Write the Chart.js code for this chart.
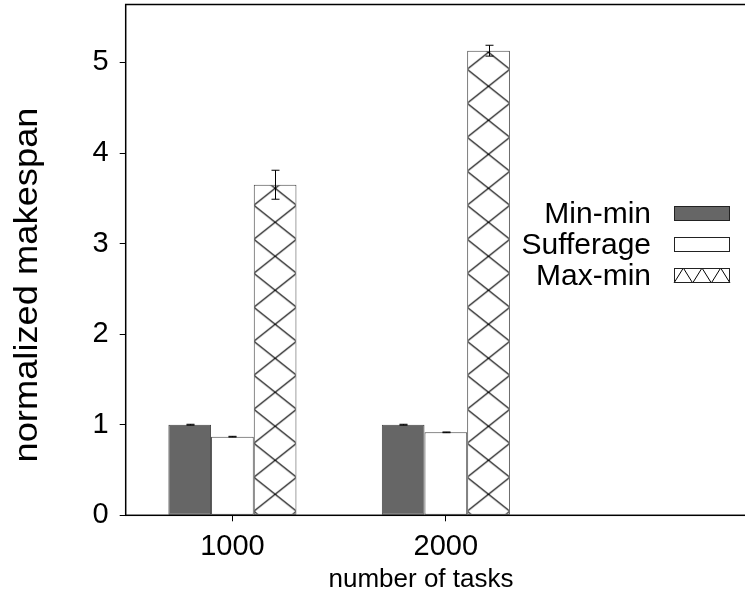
<!DOCTYPE html>
<html>
<head>
<meta charset="utf-8">
<script src="https://cdn.jsdelivr.net/npm/chart.js@4.4.1/dist/chart.umd.min.js"></script>
<style>
  html, body { margin: 0; padding: 0; background: #fff; overflow: hidden; }
  #wrap { width: 745px; height: 594px; overflow: hidden; }
</style>
</head>
<body>
<div id="wrap"><canvas id="chart" width="766" height="594"></canvas></div>
<script>
// data
const tasks = [1000, 2000];
const seriesNames = ['Min-min', 'Sufferage', 'Max-min'];
const minMin = [1.0, 1.0];
const sufferage = [0.868, 0.916];
const maxMin = [3.65, 5.13];
const minMinErr = [0.005, 0.005];
const sufferageErr = [0.004, 0.004];
const maxMinErr = [0.16, 0.06];
const yMax = 5.64;

const fontFamily = "'Liberation Sans', Arial, Helvetica, sans-serif";

// crosshatch used by the Max-min bars (three diamonds per tile)
function makeHatch(ctx) {
    const c = document.createElement('canvas');
    c.width = 128;
    c.height = 34;
    const g = c.getContext('2d');
    const w = 128 / 3, h = 34;
    g.fillStyle = '#fff';
    g.fillRect(0, 0, c.width, c.height);
    g.strokeStyle = '#000';
    g.lineWidth = 1.1;
    g.beginPath();
    for (let k = -1; k <= 3; k++) {
        g.moveTo(k * w, 0); g.lineTo((k + 1) * w, h);
        g.moveTo((k + 1) * w, 0); g.lineTo(k * w, h);
    }
    g.stroke();
    return ctx.createPattern(c, 'repeat');
}

const canvas = document.getElementById('chart');
const hatch = makeHatch(canvas.getContext('2d'));
const errors = [minMinErr, sufferageErr, maxMinErr];

// keeps the hatch lined up with the first Max-min bar
const hatchAlign = {
    id: 'hatchAlign',
    beforeDatasetsDraw(chart) {
        const bar = chart.getDatasetMeta(2).data[0];
        if (!bar) return;
        const left = bar.x - bar.width / 2;
        hatch.setTransform(new DOMMatrix([1, 0, 0, 1, left, 1.3]));
    }
};

const extras = {
    id: 'extras',
    afterDatasetsDraw(chart) {
        const ctx = chart.ctx;
        const a = chart.chartArea;
        const y = chart.scales.y;
        ctx.save();

        // frame
        ctx.strokeStyle = '#000';
        ctx.lineWidth = 1.5;
        ctx.strokeRect(a.left, a.top, a.right - a.left, a.bottom - a.top);

        // error bars
        ctx.lineWidth = 1;
        errors.forEach((errs, d) => {
            const meta = chart.getDatasetMeta(d);
            meta.data.forEach((bar, i) => {
                const v = chart.data.datasets[d].data[i].y;
                const top = y.getPixelForValue(v + errs[i]);
                const bot = y.getPixelForValue(v - errs[i]);
                const x = Math.round(bar.x) + 0.5;
                ctx.beginPath();
                ctx.moveTo(x, top); ctx.lineTo(x, bot);
                ctx.moveTo(x - 4, top); ctx.lineTo(x + 4, top);
                ctx.moveTo(x - 4, bot); ctx.lineTo(x + 4, bot);
                ctx.stroke();
            });
        });

        // legend
        ctx.font = '30px ' + fontFamily;
        ctx.fillStyle = '#000';
        ctx.textAlign = 'right';
        ctx.textBaseline = 'middle';
        const boxL = 674, boxW = 56, boxH = 15;
        seriesNames.forEach((name, i) => {
            const cy = 213.5 + i * 31;
            ctx.fillText(name, 651, cy + 1);
            const bx = boxL, by = cy - boxH / 2;
            const ds = chart.data.datasets[i];
            if (i === 2) {
                ctx.fillStyle = '#fff';
                ctx.fillRect(bx, by, boxW, boxH);
                ctx.beginPath();
                const n = 3, step = boxW / n;
                ctx.moveTo(bx, by + boxH);
                for (let k = 0; k < n; k++) {
                    ctx.lineTo(bx + step * (k + 0.5), by);
                    ctx.lineTo(bx + step * (k + 1), by + boxH);
                }
                ctx.strokeStyle = '#000';
                ctx.lineWidth = 1;
                ctx.stroke();
            } else {
                ctx.fillStyle = ds.backgroundColor;
                ctx.fillRect(bx, by, boxW, boxH);
            }
            ctx.strokeStyle = '#222';
            ctx.lineWidth = 1;
            ctx.strokeRect(bx + 0.5, by + 0.5, boxW - 1, boxH - 1);
            ctx.fillStyle = '#000';
        });

        // axis titles
        ctx.textAlign = 'center';
        ctx.textBaseline = 'alphabetic';
        ctx.font = '26px ' + fontFamily;
        ctx.fillText('number of tasks', 421, 587);
        ctx.font = '33px ' + fontFamily;
        ctx.translate(37, 285);
        ctx.rotate(-Math.PI / 2);
        ctx.scale(1.1, 1);
        ctx.fillText('normalized makespan', 0, 0);

        ctx.restore();
    }
};

const series = [minMin, sufferage, maxMin];
const fills = ['#666666', '#ffffff', hatch];

new Chart(canvas, {
    type: 'bar',
    data: {
        datasets: series.map((vals, d) => ({
            label: seriesNames[d],
            data: tasks.map((t, i) => ({ x: t, y: vals[i] })),
            backgroundColor: fills[d],
            borderColor: '#444',
            borderWidth: 1,
            borderSkipped: false,
            categoryPercentage: 0.6,
            barPercentage: 1.0
        }))
    },
    options: {
        responsive: false,
        animation: false,
        devicePixelRatio: 1,
        layout: { padding: { top: 4.5, left: 0, right: 0, bottom: 0 } },
        plugins: {
            legend: { display: false },
            tooltip: { enabled: false }
        },
        scales: {
            x: {
                type: 'linear',
                min: 500,
                max: 3500,
                offset: false,
                afterBuildTicks: s => { s.ticks = tasks.map(v => ({ value: v })); },
                afterFit: s => {
                    s.height = 594 - 515.3;
                    s.paddingLeft = 0;
                    s.paddingRight = 0;
                },
                border: { display: false },
                grid: { display: true, offset: false, drawOnChartArea: false, drawTicks: true, tickLength: 6, color: '#000' },
                ticks: {
                    callback: v => String(v),
                    font: { family: fontFamily, size: 29 },
                    color: '#000',
                    padding: 8,
                    maxRotation: 0
                }
            },
            y: {
                min: 0,
                max: yMax,
                afterFit: s => {
                    s.width = 125.7;
                    s.paddingTop = 0;
                    s.paddingBottom = 0;
                },
                border: { display: false },
                grid: { display: true, drawOnChartArea: false, drawTicks: true, tickLength: 6, color: '#000' },
                ticks: {
                    stepSize: 1,
                    includeBounds: false,
                    font: { family: fontFamily, size: 29 },
                    color: '#000',
                    padding: 11
                }
            }
        }
    },
    plugins: [hatchAlign, extras]
});
</script>
</body>
</html>
